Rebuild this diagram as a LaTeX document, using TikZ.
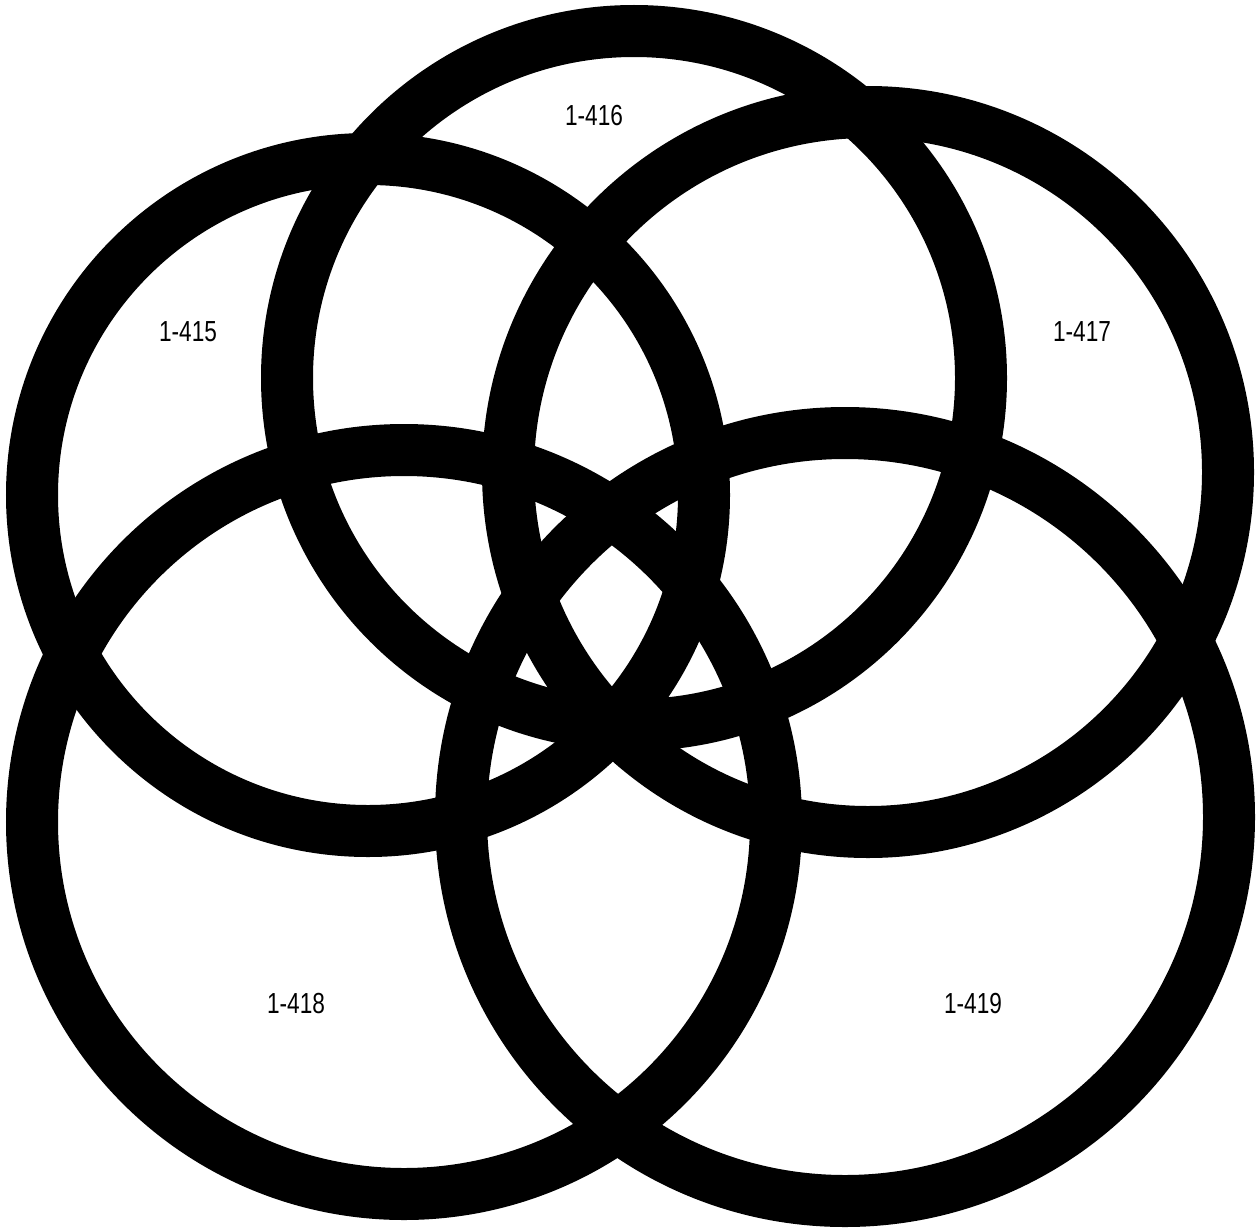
\documentclass[tikz,border=0pt]{standalone}
\usepackage{fontspec}
\setmainfont{Liberation Sans}[FakeStretch=0.78]
\begin{document}
\begin{tikzpicture}[x=1pt,y=-1pt,
  ring/.style={draw=black,line width=52pt},
  lbl/.style={font=\fontsize{29}{32}\selectfont,inner sep=0pt}]
\useasboundingbox (0,0) rectangle (1257,1228);
\draw[ring] (634,378) circle[radius=347];
\draw[ring] (368,495) circle[radius=336];
\draw[ring] (868,472) circle[radius=360];
\draw[ring] (404,822) circle[radius=372];
\draw[ring] (845,817) circle[radius=384];
\node[lbl] (l416) at (594,116) {1-416};
\node[lbl] (l415) at (188,332) {1-415};
\node[lbl] (l417) at (1082,332) {1-417};
\node[lbl] (l418) at (296,1004) {1-418};
\node[lbl] (l419) at (973,1004) {1-419};
\end{tikzpicture}
\end{document}
